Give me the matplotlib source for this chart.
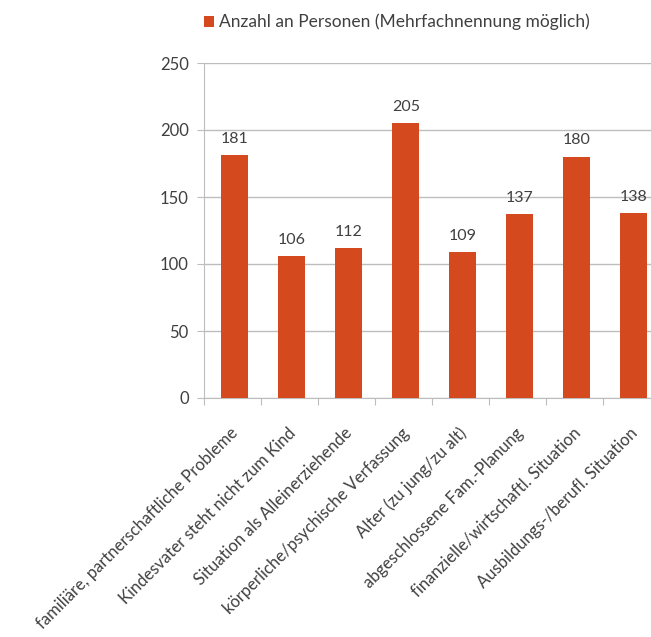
import matplotlib.pyplot as plt
import numpy as np

# Data
categories = ['familiäre, partnerschaftliche Probleme',
              'Kindesvater steht nicht zum Kind',
              'Situation als Alleinerziehende',
              'körperliche/psychische Verfassung',
              'Alter (zu jung/zu alt)',
              'abgeschlossene Fam.-Planung',
              'finanzielle/wirtschaftl. Situation',
              'Ausbildungs-/berufl. Situation']
values = [181, 106, 112, 205, 109, 137, 180, 138]
series_name = 'Anzahl an Personen (Mehrfachnennung möglich)'

bar_color = '#D4491E'
text_color = '#404040'
grid_color = '#BDBDBD'

plt.rcParams['font.family'] = ['Lato', 'DejaVu Sans']

fig = plt.figure(figsize=(6.51, 6.37), dpi=100)
# axes extends slightly past right edge, as in the cropped original
ax = fig.add_axes([204 / 651, 1 - 398 / 637, 456 / 651, 335 / 637])

x = np.arange(len(categories))
bars = ax.bar(x + 0.04, values, width=0.48, color=bar_color, zorder=3,
              label=series_name)

for xi, v in zip(x, values):
    ax.text(xi + 0.04, v + 7, str(v), ha='center', va='bottom',
            fontsize=11.5, color=text_color)

ax.set_xlim(-0.5, len(categories) - 0.5)
ax.set_ylim(0, 250)
ax.set_yticks(np.arange(0, 251, 50))
ax.yaxis.grid(True, color=grid_color, linewidth=1, zorder=0)
ax.tick_params(axis='y', length=5, color=grid_color, labelsize=12,
               labelcolor=text_color, pad=6)

ax.set_xticks(np.arange(-0.5, len(categories), 1.0))
ax.set_xticklabels([])
ax.tick_params(axis='x', length=5, color=grid_color)
for xi, cat in zip(x, categories):
    ax.text(xi - 0.04, -20, cat, rotation=45, ha='right', va='top',
            rotation_mode='anchor', fontsize=12, color=text_color)

for s in ['top', 'right']:
    ax.spines[s].set_visible(False)
ax.spines['left'].set_color(grid_color)
ax.spines['bottom'].set_color(grid_color)

fig.legend(handles=[bars], labels=[series_name], loc='center',
           bbox_to_anchor=(397 / 651, 1 - 22 / 637), frameon=False,
           fontsize=12.5, labelcolor=text_color, handlelength=0.6,
           handleheight=0.6, handletextpad=0.3)

fig.savefig('out.png', dpi=100)
